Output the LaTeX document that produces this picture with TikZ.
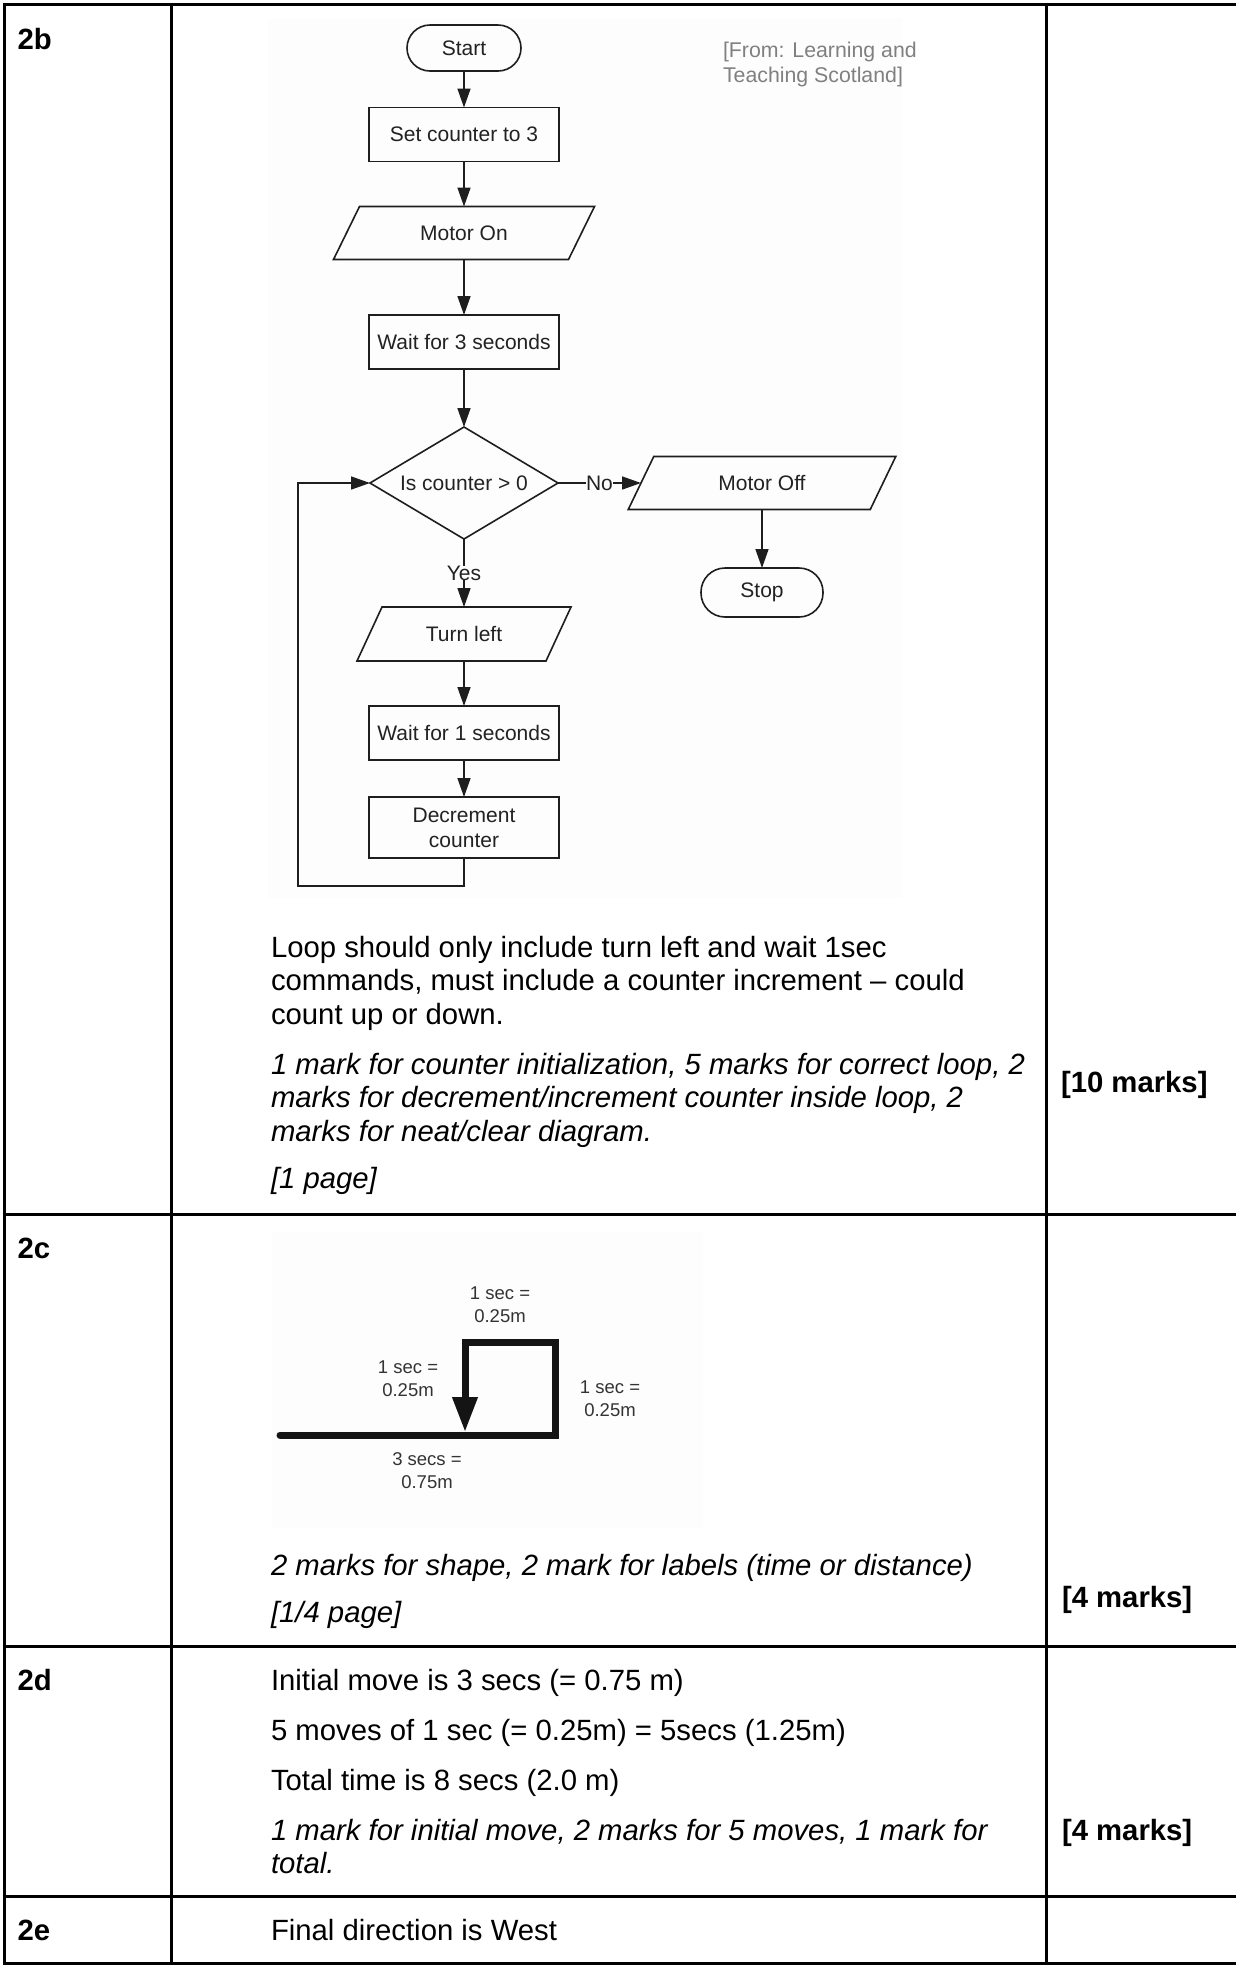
\documentclass[tikz,border=0pt]{standalone}
\usepackage{fontspec}
\setmainfont{Liberation Sans}
\usetikzlibrary{arrows.meta,calc}
\definecolor{fcline}{HTML}{1E1E1E}
\definecolor{fctext}{HTML}{222222}
\definecolor{picbg}{HTML}{FDFDFD}

\begin{document}
\begin{tikzpicture}[x=1pt,y=-1pt,
  grid/.style={line width=3pt,black,line cap=butt},
  tag/.style={anchor=base west,inner sep=0pt,outer sep=0pt,font=\fontsize{29.3}{33.8}\selectfont\bfseries},
  body/.style={anchor=base west,inner sep=0pt,outer sep=0pt,align=left,font=\fontsize{29.3}{33.8}\selectfont},
  note/.style={body,font=\fontsize{29.3}{33.8}\selectfont\itshape},
  marks/.style={anchor=base west,inner sep=0pt,outer sep=0pt,font=\fontsize{29.3}{33.8}\selectfont\bfseries},
  src/.style={anchor=base west,inner sep=0pt,outer sep=0pt,align=left,text=black!50,font=\fontsize{21.3}{25}\selectfont},
  fc/.style={inner sep=0pt,outer sep=0pt,align=center,text=fctext,font=\fontsize{21}{25}\selectfont},
  procbox/.style={fc,draw=fcline,line width=1.6pt,minimum width=190pt,minimum height=54pt},
  term/.style={fc,draw=fcline,line width=1.6pt,rounded corners=23pt},
  iobox/.style={fc,draw=none,minimum height=53pt},
  fcedge/.style={draw=fcline,line width=1.6pt},
  arr/.style={fcedge,-{Triangle[length=19pt,width=13pt]}},
  lbl/.style={fill=picbg,inner sep=0pt,text=fctext,font=\fontsize{21}{25}\selectfont},
  dist/.style={inner sep=0pt,align=center,text=black!80,font=\fontsize{18.5}{23}\selectfont},
]
\useasboundingbox (0,0) rectangle (1236,1966);
\fill[white] (0,0) rectangle (1236,1966);

% image backgrounds
\fill[picbg] (268,18) rectangle (902,898);
\fill[picbg] (272,1232) rectangle (703,1528);

% table rules
\foreach \yy in {4,1214,1646,1896,1963}
  \draw[grid] (2.5,\yy) -- (1236,\yy);
\foreach \xx in {4,171,1046}
  \draw[grid] (\xx,2.5) -- (\xx,1964.5);

% ---------- 2b : flowchart ----------
\node[term,minimum width=114pt,minimum height=46pt] (start) at (464,48) {Start};
\node[procbox] (set) at (464,134.5) {Set counter to 3};
\node[iobox,minimum width=235pt] (mon) at (464,233) {Motor On};
\node[procbox] (w3) at (464,342) {Wait for 3 seconds};
\node[fc,minimum width=188pt,minimum height=112pt] (dia) at (464,483) {Is counter > 0};
\node[iobox,minimum width=242pt] (moff) at (762,483) {Motor Off};
\node[term,minimum width=122pt,minimum height=49pt,rounded corners=24pt] (stop) at (762,592.5) {Stop};
\node[iobox,minimum width=189pt,minimum height=54pt] (tl) at (464,634) {Turn left};
\node[procbox] (w1) at (464,733) {Wait for 1 seconds};
\node[procbox,minimum height=61pt] (dec) at (464,827.5) {Decrement\\counter};
\coordinate (lc) at (298,886);

% parallelogram and decision outlines
\foreach \n/\s in {mon/13,tl/12.5,moff/12.75}
  \draw[fcedge,line join=miter]
    ($(\n.north west)+(\s,0)$) -- ($(\n.north east)+(\s,0)$) --
    ($(\n.south east)+(-\s,0)$) -- ($(\n.south west)+(-\s,0)$) -- cycle;
\draw[fcedge] (dia.north) -- (dia.east) -- (dia.south) -- (dia.west) -- cycle;

% flow
\draw[arr] (start) -- (set);
\draw[arr] (set) -- (mon);
\draw[arr] (mon) -- (w3);
\draw[arr] (w3) -- (dia.north);
\draw[arr] (dia.east) -- node[lbl] (nolbl) {No} (moff.west);
\draw[arr] (moff) -- (stop);
\draw[arr] (dia.south) -- node[lbl] (yeslbl) {Yes} (tl.north);
\draw[arr] (tl) -- (w1);
\draw[arr] (w1) -- (dec);
\draw[arr] (dec.south) |- (lc) |- (dia.west);

% multi-line nodes are placed by the baseline of their last line
\node[src] (srcnote) at (723,82) {[From: Learning and\\Teaching Scotland]};

% ---------- 2b : text ----------
\node[tag] (q2b) at (17.5,49) {2b};
\node[body] (b2a) at (271,1024.6) {Loop should only include turn left and wait 1sec\\commands, must include a counter increment – could\\count up or down.};
\node[note] (b2b) at (271,1141.6) {1 mark for counter initialization, 5 marks for correct loop, 2\\marks for decrement/increment counter inside loop, 2\\marks for neat/clear diagram.};
\node[note] (b2c) at (271,1188) {[1 page]};
\node[marks] (m2b) at (1061,1092) {[10 marks]};

% ---------- 2c : robot path ----------
\coordinate (p0) at (280,1435);
\coordinate (p1) at (555,1435);
\coordinate (p2) at (555,1342);
\coordinate (p3) at (465,1342);
\coordinate (p4) at (465,1432);
\draw[line width=7pt,black!92,line cap=round,line join=miter,
      -{Triangle[length=35pt,width=24pt]}]
  (p0) -- (p1) -- (p2) -- (p3) -- (p4);
\node[dist] (dtop) at (500,1305) {1 sec =\\0.25m};
\node[dist] (dleft) at (408,1378.5) {1 sec =\\0.25m};
\node[dist] (dright) at (610,1398.5) {1 sec =\\0.25m};
\node[dist] (dbot) at (427,1471) {3 secs =\\0.75m};

\node[tag] (q2c) at (17.5,1258) {2c};
\node[note] (c2a) at (271,1575) {2 marks for shape, 2 mark for labels (time or distance)};
\node[note] (c2b) at (271,1622) {[1/4 page]};
\node[marks] (m2c) at (1062,1607) {[4 marks]};

% ---------- 2d ----------
\node[tag] (q2d) at (17.5,1690) {2d};
\node[body] (d1) at (271,1690) {Initial move is 3 secs (= 0.75 m)};
\node[body] (d2) at (271,1740) {5 moves of 1 sec (= 0.25m) = 5secs (1.25m)};
\node[body] (d3) at (271,1790) {Total time is 8 secs (2.0 m)};
\node[note] (d4) at (271,1873.8) {1 mark for initial move, 2 marks for 5 moves, 1 mark for\\total.};
\node[marks] (m2d) at (1062,1840) {[4 marks]};

% ---------- 2e ----------
\node[tag] (q2e) at (17.5,1940) {2e};
\node[body] (e1) at (271,1940) {Final direction is West};
\end{tikzpicture}
\end{document}
